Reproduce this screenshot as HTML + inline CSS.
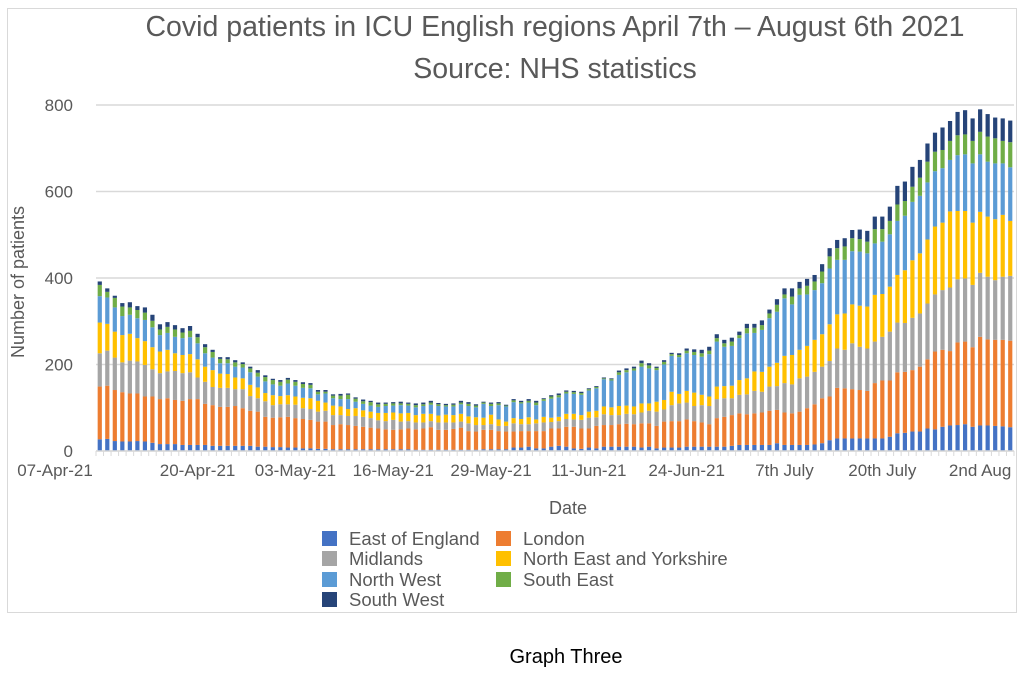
<!DOCTYPE html>
<html><head><meta charset="utf-8"><style>
body{margin:0;background:#fff;width:1024px;height:687px;overflow:hidden;font-family:"Liberation Sans",sans-serif}
svg text{font-family:"Liberation Sans",sans-serif}
</style></head><body>
<svg id="chart" width="1024" height="687">
<rect x="7.5" y="8.5" width="1009" height="604" fill="#fff" stroke="#d9d9d9"/>
<text x="555" y="36" text-anchor="middle" font-size="28.5" fill="#595959">Covid patients in ICU English regions April 7th – August 6th 2021</text>
<text x="555" y="78" text-anchor="middle" font-size="28.5" fill="#595959">Source: NHS statistics</text>
<text transform="translate(24,282) rotate(-90)" text-anchor="middle" font-size="18" fill="#595959">Number of patients</text>
<text x="568" y="514" text-anchor="middle" font-size="18" fill="#595959">Date</text>
<g id="grid"></g><g id="bars"></g><g id="xaxis"></g><g id="legend"></g>
<text x="566" y="663" text-anchor="middle" font-size="20" fill="#000">Graph Three</text>
</svg>
<script>
const seriesNames=["East of England","London","Midlands","North East and Yorkshire","North West","South East","South West"];
const seriesColors=["#4472c4","#ed7d31","#a5a5a5","#ffc000","#5b9bd5","#70ad47","#264478"];
const eastOfEngland=[27,28,23,22,22,23,22,19,16,16,16,14,14,14,14,12,12,12,12,12,12,10,10,9,9,8,8,6,6,5,5,4,4,4,4,4,4,4,4,4,4,4,3,3,3,3,3,3,3,3,3,4,4,4,4,8,8,10,6,6,10,12,10,6,5,8,6,10,10,10,10,10,8,10,6,8,8,8,10,10,10,10,10,10,12,14,14,14,14,14,18,14,14,14,14,15,18,25,29,29,29,29,29,29,29,33,41,42,45,45,52,50,56,59,60,62,56,59,59,58,57,55];
const london=[122,123,118,114,111,110,104,107,104,106,102,102,106,106,95,94,90,90,92,87,81,81,69,68,69,71,68,68,66,63,63,56,58,56,54,52,50,48,46,45,46,48,47,49,52,46,46,48,51,43,42,45,45,42,41,37,38,36,40,40,42,40,46,50,47,44,52,50,50,52,53,52,56,54,52,60,61,61,63,59,56,52,66,69,71,73,71,73,75,79,77,75,73,77,85,93,104,101,117,116,114,112,110,128,134,130,141,141,142,150,160,180,178,172,191,191,184,205,199,199,200,200];
const midlands=[77,81,75,69,76,74,73,63,60,62,67,64,62,50,51,42,44,44,39,44,34,31,36,29,30,29,31,25,25,23,25,23,21,21,23,23,22,19,19,23,18,17,16,14,14,17,17,15,14,18,15,11,13,12,13,19,16,16,18,20,15,17,18,17,20,25,20,25,23,21,23,23,25,29,33,28,37,41,39,35,40,42,44,43,39,43,46,52,48,56,55,68,67,77,73,75,73,82,91,89,106,100,98,96,101,113,115,113,121,123,129,132,138,147,146,146,144,148,145,138,146,150];
const northEastYorkshire=[71,62,60,63,62,54,55,51,50,50,41,42,42,42,35,39,33,32,27,25,26,25,19,23,19,21,19,24,25,25,19,22,20,16,18,15,15,17,19,17,19,19,17,20,17,16,18,17,18,16,18,17,22,15,10,12,12,16,9,13,10,10,12,13,11,14,15,18,18,21,19,18,21,17,23,22,31,22,27,31,24,22,29,28,29,34,37,45,46,46,54,63,68,66,71,74,75,85,79,84,90,95,97,108,99,104,110,122,133,139,148,157,156,176,158,156,144,141,139,141,143,127];
const northWest=[61,61,56,44,44,46,49,46,38,39,38,39,39,37,31,29,24,25,25,25,29,25,27,25,24,27,25,23,23,15,21,17,17,23,15,15,14,14,16,16,19,17,18,18,21,22,19,20,22,24,23,32,20,33,35,37,36,34,33,37,44,45,47,46,47,49,52,63,62,72,77,83,85,81,73,82,83,85,87,87,88,98,104,91,92,97,104,89,97,112,118,133,117,127,119,115,118,129,126,124,123,125,123,119,121,121,125,126,135,133,132,128,126,119,129,131,137,133,127,129,119,124];
const southEast=[26,13,22,22,17,19,17,15,13,14,17,13,15,14,14,13,10,9,10,8,9,9,10,10,9,9,9,9,8,6,4,6,8,10,7,6,8,6,5,5,4,4,5,4,5,4,3,4,4,5,4,3,5,4,2,4,3,4,6,4,5,5,4,4,4,3,3,2,3,6,5,5,8,7,5,6,4,5,6,7,8,8,8,8,10,7,12,12,11,11,16,9,18,15,20,20,27,28,27,31,30,29,27,33,29,31,38,34,35,42,48,45,42,44,46,46,52,52,58,58,52,58];
const southWest=[8,8,5,8,12,9,12,14,12,11,10,10,11,8,7,5,4,5,5,4,4,6,4,3,4,4,4,4,4,4,4,3,4,3,3,4,3,4,3,3,4,3,4,4,4,3,3,3,4,4,3,2,3,3,2,3,3,4,4,2,3,4,3,3,3,2,2,2,2,4,4,4,6,5,3,4,3,4,5,6,8,9,9,8,9,8,10,9,11,9,13,14,19,15,16,15,17,19,19,19,19,22,25,29,29,33,43,45,46,41,42,44,52,46,54,56,52,52,52,48,52,50];
const yTicks=[0,200,400,600,800];
const xTickLabels=["07-Apr-21","20-Apr-21","03-May-21","16-May-21","29-May-21","11-Jun-21","24-Jun-21","7th July","20th July","2nd Aug"];
const xTickIndex=[0,13,26,39,52,65,78,91,104,117];

const NS="http://www.w3.org/2000/svg";
const series=[eastOfEngland,london,midlands,northEastYorkshire,northWest,southEast,southWest];
const nDays=eastOfEngland.length;
const plotL=96,plotR=1014,y0=451,yTop=105,yMax=800;
function yScale(v){return y0-(v/yMax)*(y0-yTop);}
const step=(plotR-plotL)/nDays;
function xScale(i){return plotL+step*(i+0.5);}
function mk(tag,attrs,parent){const e=document.createElementNS(NS,tag);for(const k in attrs)e.setAttribute(k,attrs[k]);parent.appendChild(e);return e;}
const grid=document.getElementById('grid');
yTicks.forEach(t=>{
  const l=mk('line',{x1:plotL,x2:plotR,y1:yScale(t),y2:yScale(t),stroke:'#d9d9d9','stroke-width':1.5},grid);
  
  
  const tx=mk('text',{x:73,y:yScale(t)+6,'text-anchor':'end','font-size':17,fill:'#595959'},grid);
  tx.textContent=t;
  
  
});
const bars=document.getElementById('bars');
const bw=4.2;
for(let i=0;i<nDays;i++){
  let cum=0;
  for(let s=0;s<series.length;s++){
    const v=series[s][i];
    const r=mk('rect',{x:xScale(i)-bw/2,y:yScale(cum+v),width:bw,height:Math.max(0,yScale(cum)-yScale(cum+v)),fill:seriesColors[s]},bars);
    
    
    cum+=v;
  }
}
const xa=document.getElementById('xaxis');
const ax=mk('line',{x1:plotL,x2:plotR,y1:y0,y2:y0,stroke:'#d9d9d9','stroke-width':1.5},xa);


for(let i=0;i<=nDays;i++){
  const tk=mk('line',{x1:plotL+step*i,x2:plotL+step*i,y1:y0,y2:y0+5,stroke:'#d9d9d9'},xa);
  
  
}
xTickLabels.forEach((lab,k)=>{
  let x=xScale(xTickIndex[k]);
  if(k===0)x=55;
  const t=mk('text',{x:x,y:476,'text-anchor':'middle','font-size':17,fill:'#595959'},xa);
  t.textContent=lab;
  
  
});
const lg=document.getElementById('legend');
const lpos=[[322,531],[496,531],[322,551],[496,551],[322,572],[496,572],[322,592]];
series.forEach((s,k)=>{
  const g=mk('g',{},lg);
  
  
  mk('rect',{x:lpos[k][0],y:lpos[k][1],width:15,height:15,fill:seriesColors[k]},g);
  const t=mk('text',{x:lpos[k][0]+27,y:lpos[k][1]+14,'font-size':18.5,fill:'#595959'},g);
  t.textContent=seriesNames[k];
});
</script>
</body></html>
